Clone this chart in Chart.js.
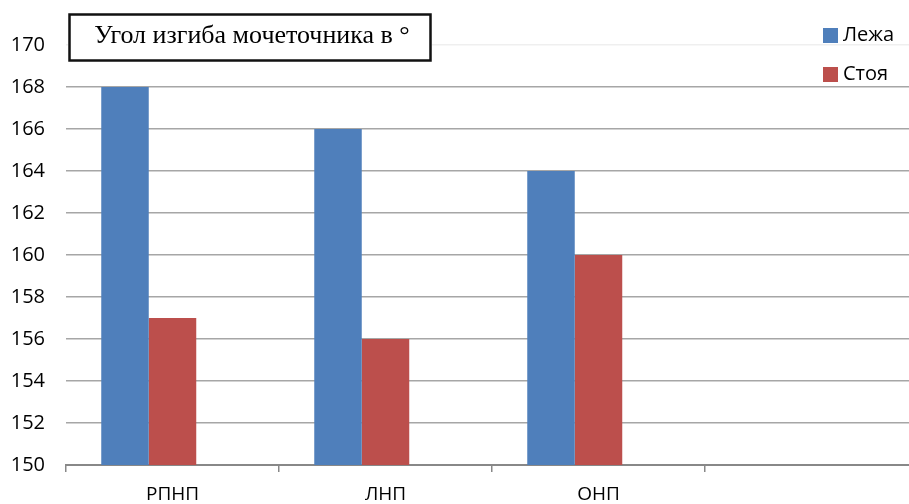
<!DOCTYPE html>
<html>
<head>
<meta charset="utf-8">
<script src="https://cdn.jsdelivr.net/npm/chart.js@4"></script>
<style>
    html, body { margin: 0; padding: 0; background: #fff; overflow: hidden; }
    #wrap { position: relative; width: 920px; height: 504px; }
</style>
</head>
<body>
<div id="wrap"><canvas id="chart"></canvas></div>
<script>
// Данные диаграммы
const categories = ['РПНП', 'ЛНП', 'ОНП', ''];
const lyingValues = [168, 166, 164, null];
const standingValues = [157, 156, 160, null];
const seriesNames = ['Лежа', 'Стоя'];
const seriesColors = ['#4f7fbb', '#bc4f4c'];
const yTicks = [150, 152, 154, 156, 158, 160, 162, 164, 166, 168, 170];
const chartTitle = 'Угол изгиба мочеточника в °';

// Рамка с заголовком в левом верхнем углу
const titleBoxPlugin = {
    id: 'titleBox',
    afterDraw(chart) {
        const ctx = chart.ctx;
        ctx.save();
        ctx.fillStyle = '#fff';
        ctx.fillRect(68, 13, 364, 49);
        ctx.strokeStyle = '#111';
        ctx.lineWidth = 2.5;
        ctx.strokeRect(69.5, 14.5, 361, 46);
        ctx.fillStyle = '#000';
        ctx.font = '26px "Liberation Serif", "DejaVu Serif", serif';
        ctx.textAlign = 'center';
        ctx.textBaseline = 'middle';
        ctx.fillText(chartTitle, 252, 36);
        ctx.restore();
    }
};

// Легенда справа сверху
const legendPlugin = {
    id: 'sideLegend',
    afterDraw(chart) {
        const ctx = chart.ctx;
        ctx.save();
        ctx.font = '20px "Open Sans", sans-serif';
        ctx.textBaseline = 'middle';
        seriesNames.forEach((name, i) => {
            const y = 35 + i * 39;
            ctx.fillStyle = seriesColors[i];
            ctx.fillRect(823, y - 7, 15, 15);
            ctx.fillStyle = '#000';
            ctx.fillText(name, 843, y);
        });
        ctx.restore();
    }
};

new Chart(document.getElementById('chart'), {
    type: 'bar',
    data: {
        labels: categories,
        datasets: [
            { label: seriesNames[0], data: lyingValues, backgroundColor: seriesColors[0] },
            { label: seriesNames[1], data: standingValues, backgroundColor: seriesColors[1] },
            // пустой третий ряд, как в исходной диаграмме Excel
            { label: '', data: [null, null, null, null], backgroundColor: 'transparent' }
        ]
    },
    options: {
        responsive: true,
        maintainAspectRatio: false,
        animation: false,
        layout: { padding: { top: 45, right: 2, left: 0, bottom: 0 } },
        datasets: {
            bar: { categoryPercentage: 0.669, barPercentage: 1.0 }
        },
        plugins: {
            legend: { display: false },
            tooltip: { enabled: false }
        },
        scales: {
            x: {
                afterFit(scale) { scale.height = 39; },
                border: { display: true, color: '#888888', width: 2 },
                grid: {
                    offset: true,
                    drawOnChartArea: false,
                    drawTicks: true,
                    tickLength: 7,
                    color: '#888888',
                    lineWidth: 1.5
                },
                ticks: {
                    color: '#000',
                    padding: 11,
                    font: { family: '"Open Sans", sans-serif', size: 19 }
                }
            },
            y: {
                min: 150,
                max: 170,
                afterFit(scale) { scale.width = 66; },
                afterBuildTicks(scale) { scale.ticks = yTicks.map(v => ({ value: v })); },
                border: { display: false },
                grid: {
                    drawTicks: false,
                    color: ctx => ctx.tick && ctx.tick.value === 170 ? '#efefef' : '#a6a6a6',
                    lineWidth: 1.5
                },
                ticks: {
                    color: '#000',
                    padding: 21,
                    font: { family: '"Open Sans", sans-serif', size: 20 }
                }
            }
        }
    },
    plugins: [titleBoxPlugin, legendPlugin]
});
</script>
</body>
</html>
